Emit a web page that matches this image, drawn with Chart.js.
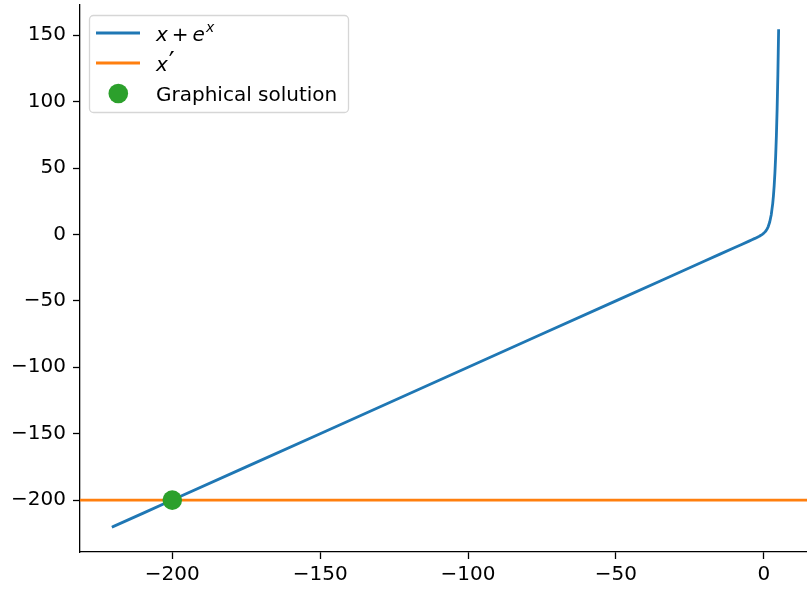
<!DOCTYPE html>
<html><head><meta charset="utf-8">
<script src="https://cdn.jsdelivr.net/npm/chart.js@4/dist/chart.umd.min.js"></script>
<style>html,body{margin:0;padding:0;background:#fff}#c{display:block}</style>
</head><body>
<canvas id="c" width="807" height="589"></canvas>
<script>
// Curve x + e^x
const curveX = [-220, -200, -150, -100, -50, -20, -10, -5, -3, -2, -1.5, -1, -0.5, 0, 0.5, 1, 1.5, 2, 2.5, 3, 3.25, 3.5, 3.75, 4, 4.25, 4.5, 4.75, 5];
const curveY = [-220, -200, -150, -100, -50, -20, -10, -4.99, -2.95, -1.86, -1.28, -0.63, 0.11, 1, 2.15, 3.72, 5.98, 9.39, 14.68, 23.09, 29.04, 36.62, 46.27, 58.6, 74.35, 94.52, 120.31, 153.41];
// Horizontal reference line x' = -200
const refLineY = -200;
// Graphical solution
const solutionX = [-200];
const solutionY = [-200];
// Axis ticks
const xTicks = [-200, -150, -100, -50, 0];
const yTicks = [-200, -150, -100, -50, 0, 50, 100, 150];
const xRange = [-231.2, 14.6];
const yRange = [-239.1, 172.8];

const BLUE = '#1f77b4', ORANGE = '#ff7f0e', GREEN = '#2ca02c';
const FONT = 'DejaVu Sans';
const FS = 20;
const minus = v => String(v).replace('-', '\u2212');

const legendPlugin = {
  id: 'mplLegend',
  afterDraw(chart) {
    const ctx = chart.ctx;
    ctx.save();
    const x0 = 89.5, y0 = 15.5, w = 259, h = 97, r = 4;
    ctx.beginPath();
    ctx.moveTo(x0 + r, y0);
    ctx.arcTo(x0 + w, y0, x0 + w, y0 + h, r);
    ctx.arcTo(x0 + w, y0 + h, x0, y0 + h, r);
    ctx.arcTo(x0, y0 + h, x0, y0, r);
    ctx.arcTo(x0, y0, x0 + w, y0, r);
    ctx.closePath();
    ctx.fillStyle = 'rgba(255,255,255,0.8)';
    ctx.fill();
    ctx.strokeStyle = '#d6d6d6';
    ctx.lineWidth = 1.3;
    ctx.stroke();

    ctx.lineWidth = 2.8;
    ctx.strokeStyle = BLUE;
    ctx.beginPath(); ctx.moveTo(96, 33); ctx.lineTo(140, 33); ctx.stroke();
    ctx.strokeStyle = ORANGE;
    ctx.beginPath(); ctx.moveTo(96, 63); ctx.lineTo(140, 63); ctx.stroke();
    ctx.fillStyle = GREEN;
    ctx.beginPath(); ctx.arc(118.3, 93.5, 9.8, 0, Math.PI * 2); ctx.fill();

    ctx.fillStyle = '#000';
    ctx.textBaseline = 'alphabetic';
    const it = 'italic ' + FS + 'px "' + FONT + '"', rg = FS + 'px "' + FONT + '"';
    let x = 156;
    ctx.font = it; ctx.fillText('x', x, 41); x += ctx.measureText('x').width + 4;
    ctx.font = rg; ctx.fillText('+', x, 41); x += ctx.measureText('+').width + 4;
    ctx.font = it; ctx.fillText('e', x, 41); x += ctx.measureText('e').width + 1;
    ctx.font = 'italic 14px "' + FONT + '"'; ctx.fillText('x', x, 32);
    x = 156;
    ctx.font = it; ctx.fillText('x', x, 71); x += ctx.measureText('x').width + 1;
    ctx.font = '26px "' + FONT + '"'; ctx.fillText('\u2032', x, 71);
    ctx.font = rg; ctx.fillText('Graphical solution', 156, 101);
    ctx.restore();
  }
};

const zeroPad = s => { s.paddingTop = 0; s.paddingBottom = 0; s.paddingLeft = 0; s.paddingRight = 0; };

new Chart(document.getElementById('c'), {
  type: 'scatter',
  data: {
    datasets: [
      {
        label: 'x + e^x',
        data: curveX.map((v, i) => ({ x: v, y: curveY[i] })),
        showLine: true, borderColor: BLUE, borderWidth: 2.8, pointRadius: 0,
        fill: false, tension: 0.0001, borderCapStyle: 'square', borderJoinStyle: 'round', order: 3
      },
      {
        label: "x'",
        data: [{ x: xRange[0] - 20, y: refLineY }, { x: xRange[1] + 20, y: refLineY }],
        showLine: true, borderColor: ORANGE, borderWidth: 2.8, pointRadius: 0,
        fill: false, order: 2
      },
      {
        label: 'Graphical solution',
        data: solutionX.map((v, i) => ({ x: v, y: solutionY[i] })),
        backgroundColor: GREEN, borderColor: GREEN, pointRadius: 9.8, borderWidth: 0,
        order: 1
      }
    ]
  },
  options: {
    responsive: false, animation: false, devicePixelRatio: 1,
    layout: { autoPadding: false, padding: { top: 5, right: 0, left: 0, bottom: 0 } },
    plugins: { legend: { display: false }, tooltip: { enabled: false } },
    scales: {
      x: {
        type: 'linear', min: xRange[0], max: xRange[1],
        afterBuildTicks: s => { s.ticks = xTicks.map(v => ({ value: v })); },
        afterFit: s => { s.height = 37; zeroPad(s); },
        grid: { display: true, drawOnChartArea: false, drawTicks: true, tickLength: 7, tickWidth: 1.3, tickColor: '#000' },
        border: { display: true, color: '#000', width: 1.3 },
        ticks: { color: '#000', font: { family: FONT, size: FS }, padding: 4, maxRotation: 0, autoSkip: false, callback: v => minus(v) }
      },
      y: {
        type: 'linear', min: yRange[0], max: yRange[1],
        afterBuildTicks: s => { s.ticks = yTicks.map(v => ({ value: v })); },
        afterFit: s => { s.width = 80; zeroPad(s); },
        grid: { display: true, drawOnChartArea: false, drawTicks: true, tickLength: 7, tickWidth: 1.3, tickColor: '#000' },
        border: { display: true, color: '#000', width: 1.3 },
        ticks: { color: '#000', font: { family: FONT, size: FS }, padding: 7, autoSkip: false, callback: v => minus(v) }
      }
    }
  },
  plugins: [legendPlugin]
});
</script>
</body></html>
